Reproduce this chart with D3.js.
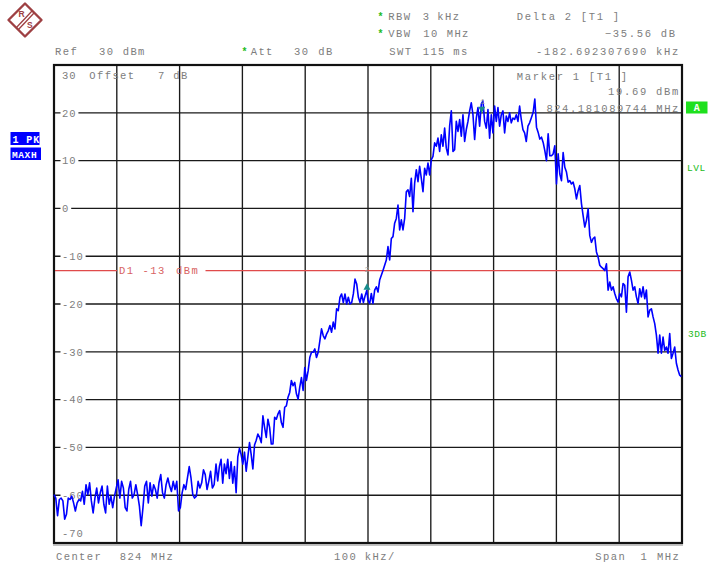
<!DOCTYPE html>
<html><head><meta charset="utf-8">
<script src="https://cdn.jsdelivr.net/npm/d3@7"></script>
<style>body{margin:0;background:#fff}svg{display:block}</style>
</head><body>
<svg id="c" width="709" height="567"></svg>
<script>
// ---------------- data ----------------
const centerMHz = 824;
const spanMHz = 1;
const refLevel = 30;
const yTicks = [30, 20, 10, 0, -10, -20, -30, -40, -50, -60, -70];
const freqGridMHz = [823.6, 823.7, 823.8, 823.9, 824.0, 824.1, 824.2, 824.3, 824.4];
const displayLineDBm = -13;
const marker1 = { freqMHz: 824.181089744, levelDBm: 19.69 };
const delta2 = { dB: -35.56, kHz: -182.692307690 };

// trace segments (offset from center, kHz) and their MAXH samples (dBm)
const segStartKHz = [-500, -242, 0, 263];
const segEndKHz = [-245, -2, 260, 499];
const traceNoise = [-59.9,-60.6,-64.3,-60.9,-60.6,-61.2,-65.0,-64.0,-60.6,-60.9,-60.2,-61.6,-63.3,-61.6,-60.9,-61.2,-59.2,-61.9,-57.8,-59.9,-57.4,-61.2,-63.7,-60.6,-58.5,-61.6,-59.5,-58.1,-61.9,-63.7,-58.1,-61.9,-60.2,-62.6,-60.2,-58.5,-56.8,-60.6,-57.1,-58.5,-62.6,-63.3,-58.8,-57.1,-60.6,-59.9,-57.8,-59.9,-62.3,-66.4,-62.6,-58.1,-57.1,-61.6,-57.4,-60.2,-57.8,-58.8,-60.6,-57.4,-55.7,-59.5,-60.6,-57.8,-56.4,-58.1,-59.2,-57.1,-58.8,-57.1,-63.3,-62.6,-59.5,-57.8,-58.8,-56.4,-54.0,-56.4,-59.9,-60.6,-60.2,-57.1,-58.5,-57.4,-54.7,-55.7,-58.8,-57.1,-55.0,-58.5,-57.8];
const traceRise = [-53.5,-57,-54,-52.5,-57.5,-53.5,-55.5,-52.5,-56.5,-53,-57.5,-54,-59.5,-52,-50.2,-51.5,-53.5,-51,-55,-52,-49,-51.5,-54.5,-49.5,-48.5,-47.2,-47.9,-49,-43.4,-45.8,-47.9,-44.1,-45.8,-49.3,-49.3,-43.7,-44.1,-43,-42.3,-44.8,-45.8,-41.6,-41.3,-39.5,-38.5,-36,-37.1,-36.4,-38.8,-39.9,-37.4,-35.4,-38.1,-33.3,-36,-34,-31.2,-30.1,-30.1,-29.4,-31.2,-30.1,-27.7,-25.2,-26.6,-27.3,-26.3,-25.6,-24.5,-25.9,-23.8,-25.2,-21,-21.4,-18.6,-17.9,-19.7,-17.9,-20,-18.6,-20,-19.7,-17.9,-14.8,-15.8,-18.6,-19.7,-17.9,-19.7,-18.3,-17.2];
const tracePeak = [-19.2,-19.9,-17.8,-19.9,-17.1,-16.4,-17.5,-15.0,-14.0,-13.0,-11.9,-10.8,-8.0,-10.8,-6.3,-5.9,-3.1,-2.1,0.7,-4.5,-2.4,-4.5,-2.1,3.5,3.9,2.5,6.3,-0.7,5.3,8.1,5.6,8.8,6.3,3.5,8.4,7.0,9.5,7.0,10.2,10.9,13.7,13.0,14.7,11.9,15.4,13.0,16.8,12.6,11.2,17.2,20.4,11.9,12.3,18.2,16.1,18.6,15.1,19.6,14.0,16.5,18.2,20.4,22.1,19.6,14.4,18.9,21.1,17.2,21.8,22.5,18.2,16.8,20.7,14.7,19.6,15.8,21.4,18.2,21.1,17.2,19.6,20.4,15.8,19.3,18.2,20.0,17.9,18.9,18.6,19.6,18.2,21.4,18.6,16.5,15.8,14.0,17.2,17.9,18.9];
const traceFall = [20.1,22.9,17.0,15.9,14.5,14.9,13.8,12.1,10.0,15.6,11.0,11.0,11.4,13.1,5.1,11.4,7.2,5.8,11.7,8.6,7.6,5.5,5.8,5.1,5.5,4.1,2.0,3.7,4.8,1.0,-1.5,-3.9,-2.5,-0.1,-5.7,-7.1,-6.3,-6.0,-9.1,-10.2,-11.9,-12.3,-12.6,-13.0,-11.6,-17.1,-15.4,-17.1,-16.4,-17.8,-18.9,-19.6,-17.8,-18.5,-15.7,-16.1,-21.7,-14.3,-13.3,-15.0,-17.1,-16.4,-18.5,-19.9,-16.8,-18.5,-16.4,-18.9,-17.1,-22.7,-21.3,-21.0,-22.7,-24.1,-26.5,-30.3,-26.5,-30.3,-26.9,-29.7,-29.0,-30.3,-26.2,-31.4,-30.3,-29.0,-32.4,-33.8,-34.9,-35.2];
const traceSegments = [traceNoise, traceRise, tracePeak, traceFall];

// ---------------- drawing ----------------
const svg = d3.select("#c");
const FONT = "'Liberation Mono', 'DejaVu Sans Mono', monospace";
const GRAY = "#7d7d7d";
const x = d3.scaleLinear().domain([centerMHz - spanMHz / 2, centerMHz + spanMHz / 2]).range([54, 682]);
const y = d3.scaleLinear().domain([-70, refLevel]).range([543, 65]);

svg.append("rect").attr("width", 709).attr("height", 567).attr("fill", "#fff");

function txt(xp, yp, s, o = {}) {
  const ls = o.ls !== undefined ? o.ls : 1.4;
  const t = svg.append("text")
    .attr("x", o.anchor === "end" ? xp + ls : xp).attr("y", yp)
    .attr("font-family", FONT).attr("font-size", o.size || 10.5)
    .attr("letter-spacing", ls)
    .attr("fill", o.fill || GRAY)
    .attr("font-weight", o.weight || "normal")
    .attr("text-anchor", o.anchor || "start")
    .text(s);
  return t;
}

// grid
const grid = svg.append("g").attr("stroke", "#1a1a1a").attr("stroke-width", 1.35);
yTicks.filter(t => t < refLevel && t > -70).forEach(t => {
  grid.append("line").attr("x1", x.range()[0]).attr("x2", x.range()[1]).attr("y1", y(t)).attr("y2", y(t));
});
freqGridMHz.forEach(f => {
  grid.append("line").attr("x1", x(f)).attr("x2", x(f)).attr("y1", y.range()[1]).attr("y2", y.range()[0]);
});

// y labels with knock-out backgrounds
yTicks.forEach(t => {
  let yy;
  if (t === refLevel) yy = 79;
  else if (t === -70) yy = 537;
  else yy = y(t) + 3.8;
  const lab = txt(62, yy, String(t), { ls: 0.9 });
  if (t < refLevel && t > -70) {
    const w = lab.node().getComputedTextLength();
    svg.insert("rect", "text").attr("x", 60.5).attr("y", y(t) - 4).attr("width", w + 3.5).attr("height", 8).attr("fill", "#fff");
  }
});

// frame
svg.append("rect").attr("x", 54).attr("y", 65).attr("width", 628).attr("height", 478)
  .attr("fill", "none").attr("stroke", "#111").attr("stroke-width", 2.2);
svg.append("line").attr("x1", 53).attr("x2", 683).attr("y1", 545).attr("y2", 545).attr("stroke", "#888").attr("stroke-width", 1);

// display line D1
const red = "#e04a4a";
svg.append("line").attr("x1", 55).attr("x2", 117).attr("y1", y(displayLineDBm)).attr("y2", y(displayLineDBm)).attr("stroke", red).attr("stroke-width", 1.2);
svg.append("line").attr("x1", 205.5).attr("x2", 681).attr("y1", y(displayLineDBm)).attr("y2", y(displayLineDBm)).attr("stroke", red).attr("stroke-width", 1.2);
txt(119, y(displayLineDBm) + 3.6, "D1", { fill: "#d86262" });
txt(142.5, y(displayLineDBm) + 3.6, "-13", { fill: "#d86262" });
txt(176, y(displayLineDBm) + 3.6, "dBm", { fill: "#d86262" });

// trace
const pts = [];
traceSegments.forEach((vals, i) => {
  const n = vals.length;
  vals.forEach((v, j) => {
    const k = segStartKHz[i] + (segEndKHz[i] - segStartKHz[i]) * j / (n - 1);
    pts.push([centerMHz + k / 1000, v]);
  });
});
const line = d3.line().x(d => x(d[0])).y(d => y(d[1]));
svg.append("path").datum(pts).attr("d", line).attr("fill", "none")
  .attr("stroke", "#0000ff").attr("stroke-width", 1.6).attr("stroke-linejoin", "round");

// markers
const teal = "#168c8c";
const m1x = x(marker1.freqMHz), m1y = y(marker1.levelDBm);
svg.append("path").attr("d", `M${m1x - 3.5},${m1y - 7.5}L${m1x + 3.5},${m1y - 7.5}L${m1x},${m1y - 1}Z`).attr("fill", teal);
svg.append("text").attr("x", m1x + 1).attr("y", m1y - 10).attr("font-family", FONT).attr("font-size", 8)
  .attr("fill", "#999").attr("text-anchor", "middle").text("1");
const m2x = x(marker1.freqMHz + delta2.kHz / 1000), m2y = y(marker1.levelDBm + delta2.dB);
svg.append("path").attr("d", `M${m2x},${m2y - 1}L${m2x + 3.5},${m2y + 5.5}L${m2x - 3.5},${m2y + 5.5}Z`).attr("fill", teal);
svg.append("text").attr("x", m2x).attr("y", m2y - 12).attr("font-family", FONT).attr("font-size", 8)
  .attr("fill", "#999").attr("text-anchor", "middle").text("2");

// header texts
const GREEN = "#22bb22";
const row1 = 19.5, row2 = 37, row3 = 55.3;
txt(55, row3, "Ref"); txt(99, row3, "30"); txt(122.7, row3, "dBm");
txt(241.5, row3 - 0.5, "*", { fill: GREEN, weight: "bold", size: 10 });
txt(250.7, row3, "Att"); txt(294, row3, "30"); txt(318.3, row3, "dB");
txt(377.5, row1, "*", { fill: GREEN, weight: "bold", size: 10 });
txt(388.3, row1, "RBW"); txt(422.7, row1, "3"); txt(437.3, row1, "kHz");
txt(377.5, row2, "*", { fill: GREEN, weight: "bold", size: 10 });
txt(388.3, row2, "VBW"); txt(423.3, row2, "10"); txt(446.7, row2, "MHz");
txt(389.3, row3, "SWT"); txt(422.7, row3, "115"); txt(453.3, row3, "ms");
txt(516.7, row1, "Delta 2 [T1 ]", { ls: 1.7 });
txt(675, row2, d3.format(".2f")(delta2.dB) + " dB", { anchor: "end", ls: 1.7 });
txt(678.3, row3, delta2.kHz.toFixed(9) + " kHz", { anchor: "end", ls: 1.7 });

// in-plot marker info
txt(89.3, 79, "Offset"); txt(158, 79, "7"); txt(173.3, 79, "dB");
txt(516.7, 80, "Marker 1 [T1 ]", { ls: 1.7 });
txt(678.3, 95, marker1.levelDBm.toFixed(2) + " dBm", { anchor: "end", ls: 1.7 });
txt(678.3, 111.5, marker1.freqMHz.toFixed(9) + " MHz", { anchor: "end", ls: 1.55 });

// bottom
txt(56, 560, "Center"); txt(119.7, 560, String(centerMHz)); txt(151, 560, "MHz");
txt(334, 560, (spanMHz * 100) + " kHz/");
txt(595.3, 560, "Span"); txt(640.5, 560, String(spanMHz)); txt(657, 560, "MHz");

// left trace info boxes
svg.append("rect").attr("x", 10.5).attr("y", 132).attr("width", 29).attr("height", 13).attr("fill", "#0000ff");
txt(12.5, 142.5, "1 PK", { fill: "#fff", ls: 0.9, size: 10, weight: "bold" });
svg.append("rect").attr("x", 10.5).attr("y", 147.5).attr("width", 30.5).attr("height", 12.5).attr("fill", "#0000ff");
txt(12, 157.5, "MAXH", { fill: "#fff", ls: 0.6, size: 9.5, weight: "bold" });

// right side annotations
svg.append("rect").attr("x", 686).attr("y", 101.5).attr("width", 21.5).attr("height", 12).attr("fill", "#1ee01e");
svg.append("text").attr("x", 696.8).attr("y", 111.3).attr("font-family", FONT).attr("font-size", 10)
  .attr("font-weight", "bold").attr("fill", "#fff").attr("text-anchor", "middle").text("A");
txt(687, 171, "LVL", { fill: GREEN, size: 9.5, ls: 0.6 });
txt(688, 337, "3DB", { fill: GREEN, size: 9.5, ls: 0.6 });

// R&S logo
const logo = svg.append("g").attr("transform", "translate(25,20)");
const LC = "#9e4043";
logo.append("path").attr("d", "M0,-16.5L16.5,0L0,16.5L-16.5,0Z").attr("fill", "none")
  .attr("stroke", LC).attr("stroke-width", 2.4).attr("stroke-linejoin", "round");
logo.append("line").attr("x1", 7.5).attr("y1", -9.5).attr("x2", -9).attr("y2", 8).attr("stroke", LC).attr("stroke-width", 1.3);
logo.append("line").attr("x1", 9.5).attr("y1", -7.5).attr("x2", -7).attr("y2", 10).attr("stroke", LC).attr("stroke-width", 1.3);
logo.append("text").attr("x", -6.5).attr("y", -3).attr("font-family", "'Liberation Sans', sans-serif").attr("font-size", 8.5)
  .attr("font-weight", "bold").attr("fill", LC).text("R");
logo.append("text").attr("x", 2).attr("y", 7.5).attr("font-family", "'Liberation Sans', sans-serif").attr("font-size", 8.5)
  .attr("font-weight", "bold").attr("fill", LC).text("S");
</script>
</body></html>
